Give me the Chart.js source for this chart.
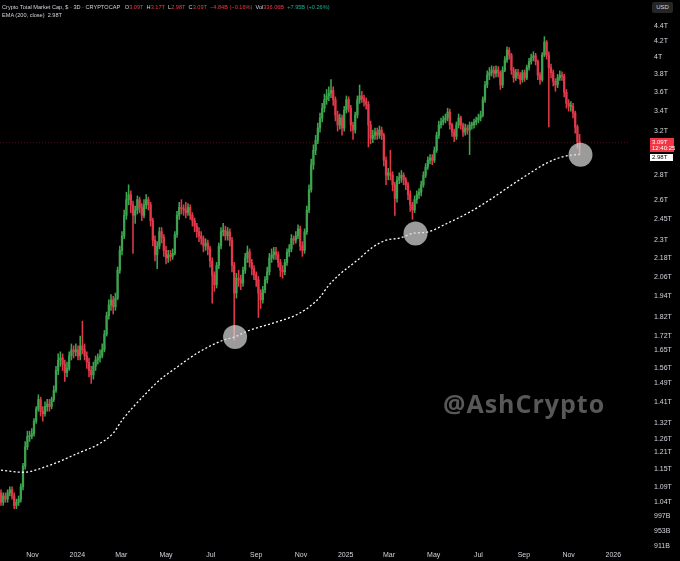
<!DOCTYPE html>
<html>
<head>
<meta charset="utf-8">
<script src="https://cdn.jsdelivr.net/npm/chart.js@4.4.1/dist/chart.umd.min.js"></script>
<style>
  html,body{margin:0;padding:0;background:#000;}
  #wrap{position:relative;width:680px;height:561px;overflow:hidden;background:#000;}
  canvas{position:absolute;left:0;top:0;}
  .hdr{position:absolute;left:2px;font-family:"Liberation Sans",Arial,sans-serif;font-size:5.6px;color:#d1d4dc;white-space:nowrap;line-height:8px;}
  .r{color:#f23645;} .g{color:#22ab94;}
  #wm{position:absolute;left:443px;top:388px;font-family:"Open Sans",Roboto,sans-serif;font-weight:700;font-size:25px;letter-spacing:1px;color:#585858;line-height:30px;white-space:nowrap;}
  #usd{position:absolute;left:652px;top:2px;width:21px;height:11px;background:#262626;border-radius:2px;color:#d1d4dc;font-family:"Liberation Sans",Arial,sans-serif;font-size:6px;line-height:11px;text-align:center;}
  #pbox{position:absolute;left:650px;width:24px;height:14px;background:#f23645;color:#fff;font-family:"Liberation Sans",Arial,sans-serif;font-size:6px;line-height:6.5px;padding-left:2px;box-sizing:border-box;padding-top:1px;}
  #ebox{position:absolute;left:650px;width:23px;height:7px;background:#fff;color:#000;font-family:"Liberation Sans",Arial,sans-serif;font-size:6px;line-height:7px;padding-left:2px;box-sizing:border-box;}
</style>
</head>
<body>
<div id="wrap">
  <canvas id="c" width="680" height="561"></canvas>
  <div class="hdr" style="top:3px;">Crypto Total Market Cap, $ · 3D · CRYPTOCAP&nbsp;&nbsp;&nbsp;O<span class="r">3.09T</span>&nbsp;&nbsp;H<span class="r">3.17T</span>&nbsp;&nbsp;L<span class="r">2.98T</span>&nbsp;&nbsp;C<span class="r">3.09T</span>&nbsp;&nbsp;<span class="r">−4.84B (−0.16%)</span>&nbsp;&nbsp;Vol<span class="r">336.06B</span>&nbsp;&nbsp;<span class="g">+7.95B (+0.26%)</span></div>
  <div class="hdr" style="top:11px;">EMA (200, close)&nbsp;&nbsp;2.98T</div>
  <div id="wm">@AshCrypto</div>
  <div id="usd">USD</div>
  <div id="pbox">3.09T<br>12:40:25</div>
  <div id="ebox">2.98T</div>
</div>
<script>
// ---- data (values in trillions USD), one candle every 3 days ----
const startDate = '2023-09-19';
const candleDays = 3;
const firstOpen = 1.07;
const closes = [
1.04,1.06,1.05,1.07,1.08,1.06,1.03,1.04,1.05,1.09,1.16,
1.23,1.27,1.27,1.28,
1.33,1.38,1.42,1.37,1.36,
1.39,1.40,1.39,1.42,
1.46,1.55,1.60,
1.61,1.58,1.54,1.56,
1.62,1.65,1.64,1.65,1.62,
1.67,1.65,1.62,1.59,1.55,1.53,
1.57,1.60,1.61,1.62,1.65,
1.73,1.83,1.89,
1.92,1.88,1.93,
2.10,2.23,2.33,
2.48,2.60,2.64,
2.56,2.48,2.52,
2.60,2.54,2.48,2.56,2.60,
2.56,2.44,2.30,2.20,2.26,
2.36,2.32,2.23,
2.18,2.20,2.19,2.21,
2.34,2.48,2.54,
2.53,2.52,2.50,2.54,2.48,
2.44,2.40,2.36,2.33,
2.31,2.26,2.28,2.24,
2.16,2.07,2.01,
2.13,2.26,2.36,
2.37,2.33,2.36,2.30,
2.13,1.96,
2.05,2.04,2.02,
2.10,2.18,2.22,2.15,
2.11,2.07,2.04,
1.96,1.92,
1.98,2.04,2.09,
2.18,2.20,2.22,2.20,
2.15,2.10,2.09,
2.15,2.22,2.24,
2.31,2.30,2.33,
2.38,2.26,2.23,
2.36,2.52,2.68,
2.89,3.02,3.11,
3.23,3.33,3.43,
3.52,3.56,3.59,3.62,
3.52,3.36,3.26,
3.33,3.23,
3.41,3.52,3.43,
3.26,3.21,
3.36,3.52,3.56,
3.53,3.50,3.47,
3.26,3.13,3.16,
3.19,3.16,3.21,3.16,
2.93,2.80,2.82,
2.80,2.72,2.61,
2.76,2.78,
2.80,2.76,2.72,
2.64,2.56,2.52,
2.60,2.64,2.66,
2.72,2.80,2.87,
2.93,2.95,2.93,
3.02,3.16,3.26,
3.29,3.31,3.33,
3.39,3.26,
3.19,3.15,3.26,
3.33,3.26,3.19,
3.23,3.21,3.26,
3.26,3.29,3.31,3.33,3.36,
3.52,3.68,3.79,
3.82,3.85,3.81,3.85,3.82,
3.68,3.85,
3.97,4.09,4.03,
3.85,3.76,3.82,
3.79,3.74,3.82,3.76,
3.88,3.95,4.00,4.02,
3.95,3.79,3.74,
4.03,4.19,
4.03,3.88,3.82,
3.72,3.68,
3.76,3.79,3.78,
3.60,3.48,3.45,
3.45,3.38,
3.24,3.10,3.09
];
const highs = [
1.08,1.07,1.07,1.08,1.09,1.09,1.07,1.05,1.06,1.10,1.17,
1.25,1.29,1.29,1.30,
1.34,1.39,1.44,1.43,1.39,
1.41,1.42,1.42,1.43,
1.48,1.57,1.63,
1.64,1.63,1.60,1.59,
1.64,1.68,1.67,1.68,1.67,
1.72,1.80,1.68,1.64,1.61,1.57,
1.59,1.62,1.63,1.65,1.68,
1.75,1.85,1.92,
1.95,1.94,1.96,
2.12,2.26,2.36,
2.52,2.66,2.72,
2.67,2.59,2.55,
2.63,2.62,2.57,2.60,2.64,
2.62,2.58,2.46,2.33,2.29,
2.39,2.39,2.34,
2.26,2.23,2.23,2.24,
2.36,2.51,2.58,
2.60,2.56,2.58,2.57,2.56,
2.50,2.46,2.42,2.39,
2.36,2.33,2.31,2.30,
2.26,2.18,2.09,
2.15,2.28,2.39,
2.42,2.40,2.39,2.38,
2.32,2.15,
2.08,2.10,2.07,
2.12,2.21,2.26,2.24,
2.17,2.13,2.09,
2.06,1.98,
2.00,2.06,2.12,
2.21,2.24,2.25,2.25,
2.22,2.17,2.13,
2.17,2.24,2.27,
2.34,2.33,2.36,
2.41,2.40,2.29,
2.38,2.55,2.72,
2.94,3.07,3.16,
3.28,3.38,3.48,
3.58,3.63,3.66,3.74,
3.66,3.55,3.40,
3.37,3.36,
3.45,3.56,3.55,
3.46,3.29,
3.39,3.56,3.68,
3.61,3.57,3.54,
3.50,3.30,3.21,
3.23,3.23,3.25,3.24,
3.18,2.96,2.86,
3.02,2.83,2.74,
2.79,2.82,
2.84,2.82,2.78,
2.74,2.67,2.58,
2.63,2.67,2.69,
2.75,2.83,2.90,
2.96,2.98,2.98,
3.05,3.19,3.30,
3.33,3.35,3.37,
3.43,3.42,
3.28,3.22,3.29,
3.37,3.35,3.28,
3.27,3.26,3.29,
3.29,3.32,3.34,3.37,3.40,
3.55,3.72,3.84,
3.88,3.90,3.89,3.90,3.89,
3.84,3.89,
4.01,4.13,4.12,
4.05,3.88,3.86,
3.86,3.82,3.85,3.85,
3.91,3.99,4.04,4.07,
4.05,3.97,3.82,
4.06,4.26,
4.21,4.07,3.92,
3.85,3.75,
3.80,3.84,3.83,
3.80,3.63,3.52,
3.50,3.48,
3.40,3.26,3.17
];
const lows = [
1.03,1.03,1.04,1.04,1.06,1.05,1.02,1.02,1.03,1.04,1.08,
1.15,1.22,1.25,1.26,
1.27,1.32,1.37,1.35,1.33,
1.35,1.37,1.37,1.38,
1.41,1.45,1.53,
1.57,1.55,1.50,1.52,
1.55,1.60,1.61,1.62,1.60,
1.60,1.63,1.60,1.56,1.52,1.49,
1.51,1.55,1.58,1.59,1.61,
1.64,1.72,1.81,
1.86,1.84,1.86,
1.92,2.08,2.20,
2.31,2.45,2.56,
2.50,2.21,2.42,
2.49,2.50,2.44,2.46,2.53,
2.52,2.40,2.26,2.16,2.11,
2.24,2.28,2.19,
2.14,2.15,2.16,2.17,
2.20,2.32,2.45,
2.49,2.48,2.46,2.48,2.45,
2.40,2.36,2.32,2.29,
2.27,2.22,2.23,2.20,
2.12,1.90,1.97,
1.99,2.11,2.24,
2.33,2.30,2.30,2.26,
2.09,1.70,
1.93,2.00,1.98,
2.00,2.08,2.15,2.12,
2.07,2.04,2.00,
1.82,1.87,
1.90,1.96,2.02,
2.07,2.15,2.17,2.17,
2.12,2.06,2.05,
2.07,2.13,2.19,
2.22,2.27,2.28,
2.31,2.23,2.19,
2.21,2.34,2.50,
2.66,2.85,2.98,
3.08,3.19,3.29,
3.39,3.47,3.51,3.54,
3.46,3.30,3.20,
3.22,3.16,
3.20,3.38,3.39,
3.20,3.12,
3.18,3.33,3.48,
3.49,3.45,3.42,
3.05,3.08,3.09,
3.12,3.12,3.13,3.12,
2.88,2.72,2.76,
2.76,2.67,2.48,
2.58,2.73,
2.74,2.72,2.68,
2.60,2.51,2.45,
2.50,2.57,2.61,
2.63,2.70,2.78,
2.85,2.90,2.89,
2.91,3.00,3.13,
3.23,3.26,3.28,
3.30,3.22,
3.15,3.10,3.12,
3.23,3.22,3.15,
3.16,3.17,2.98,
3.22,3.23,3.26,3.28,3.30,
3.34,3.49,3.65,
3.74,3.78,3.76,3.77,3.77,
3.63,3.65,
3.83,3.94,3.98,
3.80,3.71,3.73,
3.75,3.69,3.71,3.72,
3.74,3.85,3.92,3.96,
3.91,3.74,3.69,
3.72,4.01,
3.98,3.24,3.76,
3.67,3.61,
3.65,3.73,3.73,
3.55,3.43,3.40,
3.40,3.33,
3.18,3.04,2.98
];
// EMA(200, close): candle index -> value
const emaIdx = [0,10,22,36,45,51,55,60,66,72,80,90,101,106,113,125,134,140,145,149,154,162,169,175,181,188,193,203,213,222,230,239,248,255,260,263];
const emaValues = [1.146,1.139,1.163,1.210,1.243,1.282,1.333,1.387,1.447,1.505,1.566,1.639,1.699,1.715,1.751,1.794,1.833,1.878,1.936,2.007,2.075,2.165,2.252,2.300,2.314,2.350,2.355,2.422,2.504,2.597,2.693,2.801,2.905,2.959,2.977,2.980];
// highlighted EMA touches (candle index, value)
const touchIdx = [106.4,188.4,263.4];
const touchValues = [1.715,2.347,2.98];
const lastClose = 3.09;
const emaLast = 2.98;
// axis ticks
const yTickValues = [4.4,4.2,4.0,3.8,3.6,3.4,3.2,2.8,2.6,2.45,2.3,2.18,2.06,1.94,1.82,1.72,1.65,1.56,1.49,1.41,1.32,1.26,1.21,1.15,1.09,1.04,0.997,0.953,0.911];
const yTickLabels = ['4.4T','4.2T','4T','3.8T','3.6T','3.4T','3.2T','2.8T','2.6T','2.45T','2.3T','2.18T','2.06T','1.94T','1.82T','1.72T','1.65T','1.56T','1.49T','1.41T','1.32T','1.26T','1.21T','1.15T','1.09T','1.04T','997B','953B','911B'];
const xTickDates = ['2023-11-01','2024-01-01','2024-03-01','2024-05-01','2024-07-01','2024-09-01','2024-11-01','2025-01-01','2025-03-01','2025-05-01','2025-07-01','2025-09-01','2025-11-01','2026-01-01'];
const xTickLabels = ['Nov','2024','Mar','May','Jul','Sep','Nov','2025','Mar','May','Jul','Sep','Nov','2026'];
const yMin = 0.9055, yMax = 4.76;
const xMin = -0.4545, xMax = 285.9;

// ---- build ----
const DAY = 86400000;
const t0 = Date.parse(startDate);
const dateToIdx = d => (Date.parse(d) - t0) / DAY / candleDays;
const xTickPos = xTickDates.map(dateToIdx);
const UP = '#3da34e', DOWN = '#e0394a';
const opens = closes.map((c, i) => i === 0 ? firstOpen : closes[i - 1]);
const colors = closes.map((c, i) => c >= opens[i] ? UP : DOWN);
const bodyData = closes.map((c, i) => ({x: i, y: [Math.min(opens[i], c), Math.max(opens[i], c)]}));
const wickData = closes.map((c, i) => ({x: i, y: [lows[i], highs[i]]}));
const emaData = emaIdx.map((x, k) => ({x, y: emaValues[k]}));
const touchData = touchIdx.map((x, k) => ({x, y: touchValues[k]}));

const overlayPlugin = {
  id: 'overlay',
  afterDraw(chart) {
    const y = chart.scales.y;
    const py = y.getPixelForValue(lastClose);
    const pbox = document.getElementById('pbox');
    pbox.style.top = (py - 5) + 'px';
    const eb = document.getElementById('ebox');
    const ey = y.getPixelForValue(emaLast);
    eb.style.top = Math.max(ey - 3.5, py - 5 + 16) + 'px';
  }
};

const font = {family: '"Liberation Sans", Arial, sans-serif', size: 7};
new Chart(document.getElementById('c'), {
  data: {
    datasets: [
      {type: 'line', data: [{x: xMin, y: lastClose}, {x: xMax, y: lastClose}], borderColor: 'rgba(242,54,69,0.32)', borderWidth: 1, borderDash: [1, 2], pointRadius: 0, order: 6},
      {type: 'bar', data: wickData, backgroundColor: colors, barThickness: 0.9, grouped: false, order: 4},
      {type: 'bar', data: bodyData, backgroundColor: colors, barThickness: 1.6, grouped: false, minBarLength: 1, order: 3},
      {type: 'line', data: emaData, borderColor: '#ffffff', borderWidth: 1.3, borderDash: [2, 2.2], pointRadius: 0, tension: 0.4, cubicInterpolationMode: 'monotone', order: 2},
      {type: 'scatter', data: touchData, pointRadius: 12, pointHoverRadius: 12, backgroundColor: 'rgba(215,215,215,0.72)', borderWidth: 0, order: 1}
    ]
  },
  options: {
    responsive: false,
    animation: false,
    events: [],
    layout: {padding: 0, autoPadding: false},
    plugins: {legend: {display: false}, tooltip: {enabled: false}},
    scales: {
      x: {
        type: 'linear', position: 'bottom', min: xMin, max: xMax, bounds: 'data', offset: false,
        grid: {display: false, drawTicks: false}, border: {display: false},
        afterBuildTicks: s => { s.ticks = xTickPos.map(v => ({value: v})); },
        afterFit: s => { s.height = 13; s.paddingLeft = 0; s.paddingRight = 0; },
        ticks: {autoSkip: false, maxRotation: 0, padding: 3, color: '#d1d4dc', font, callback: (v, i) => xTickLabels[i]}
      },
      y: {
        type: 'logarithmic', position: 'right', min: yMin, max: yMax, bounds: 'data', beginAtZero: false,
        grid: {display: false, drawTicks: false}, border: {display: false},
        afterBuildTicks: s => { s.ticks = yTickValues.map(v => ({value: v})); },
        afterFit: s => { s.width = 50; s.paddingTop = 0; s.paddingBottom = 0; },
        ticks: {autoSkip: false, padding: 24, color: '#d1d4dc', font, callback: (v, i) => yTickLabels[i]}
      }
    }
  },
  plugins: [overlayPlugin]
});
</script>
</body>
</html>
